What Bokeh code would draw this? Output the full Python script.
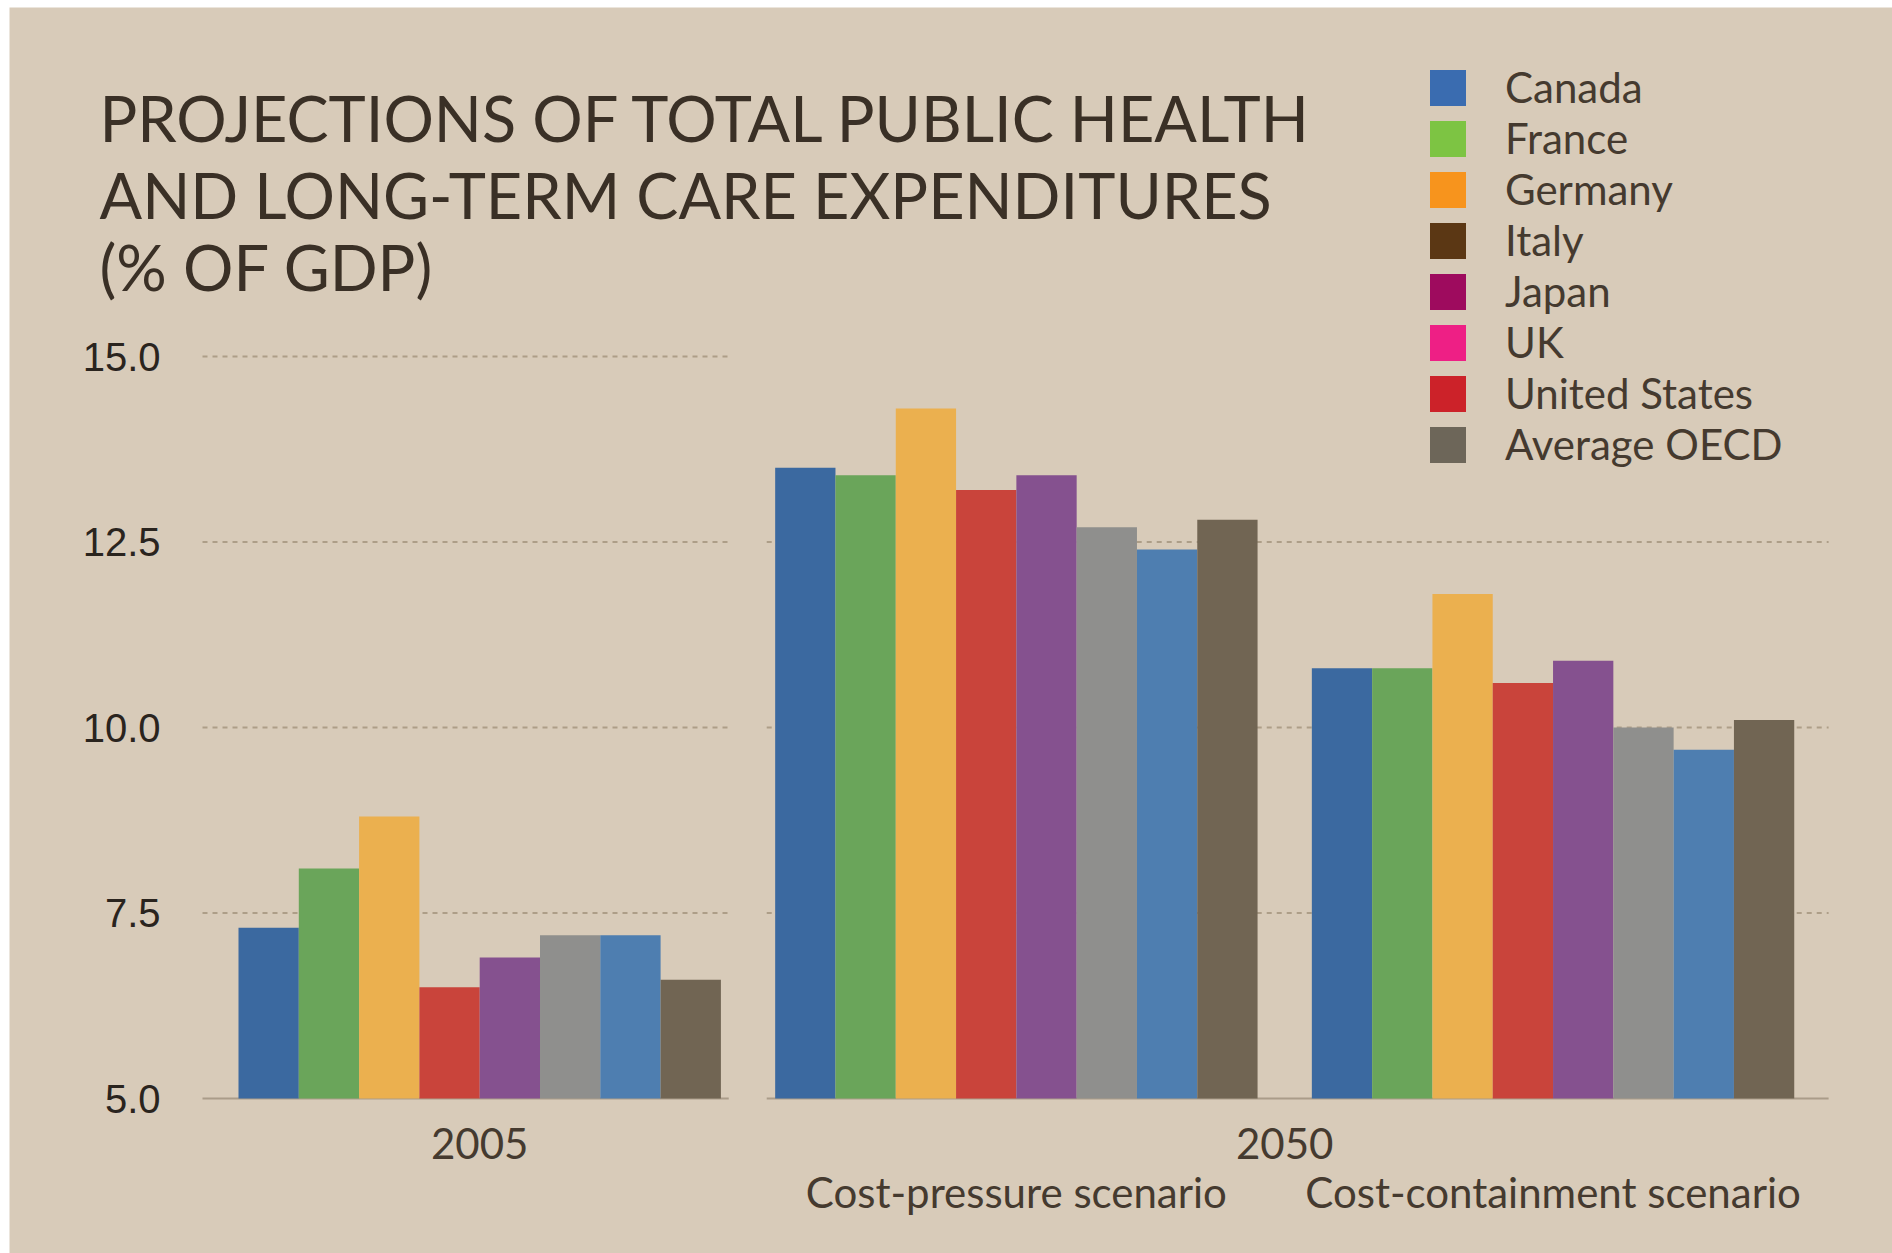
from bokeh.plotting import figure
from bokeh.models import (ColumnDataSource, Range1d, LinearAxis, FixedTicker,
                          PrintfTickFormatter, Label, Legend, LegendItem)
from bokeh.embed import file_html
from bokeh.resources import INLINE

# ---------------- data ----------------
countries = ["Canada", "France", "Germany", "Italy", "Japan", "UK",
             "United States", "Average OECD"]
group_names = ["2005", "Cost-pressure scenario", "Cost-containment scenario"]
year_labels = ["2005", "2050"]
values_2005 = [7.3, 8.1, 8.8, 6.5, 6.9, 7.2, 7.2, 6.6]
values_2050_pressure = [13.5, 13.4, 14.3, 13.2, 13.4, 12.7, 12.4, 12.8]
values_2050_containment = [10.8, 10.8, 11.8, 10.6, 10.9, 10.0, 9.7, 10.1]
y_ticks = [5.0, 7.5, 10.0, 12.5, 15.0]
title_lines = ["PROJECTIONS OF TOTAL PUBLIC HEALTH",
               "AND LONG-TERM CARE EXPENDITURES",
               "(% OF GDP)"]

# ---------------- style ----------------
bar_colors = ["#3b69a0", "#6aa55a", "#ebb04f", "#c9443b", "#85518f",
              "#8f8f8d", "#4e7eb0", "#716553"]
legend_colors = ["#3a6cb0", "#7dc443", "#f7941d", "#5b3714", "#9e0b5e",
                 "#ee1f85", "#cc2229", "#6d6659"]
BG = "#d8cbb9"
TEXT = "#453a2f"
FONT = "Lato"

W, H = 1892, 1253
ML, MT = 9, 7                       # white strip at left / top of the picture
AXIS_X, BASE_Y = 202, 1098          # page pixels of the value axis / baseline
PX_Y = 74.2                         # pixels per percentage point
PX_X = 60.3                         # pixels per bar slot
FIRST_BAR = 238                     # page x of first bar's left edge
GAP = 0.9                           # gap between groups (in bar widths)
n = len(countries)

def px_to_x(px):
    return (px - FIRST_BAR) / PX_X

def py_to_y(py):
    return y_ticks[0] + (BASE_Y - py) / PX_Y

# frame covers the whole figure
p = figure(width=W - ML, height=H - MT, output_backend="svg", toolbar_location=None,
           x_range=Range1d(px_to_x(ML), px_to_x(W)),
           y_range=Range1d(py_to_y(H), py_to_y(MT)),
           x_axis_location=None, min_border=0,
           min_border_left=0, min_border_right=0, min_border_top=0,
           min_border_bottom=0)
p.margin = (MT, 0, 0, ML)
p.background_fill_color = BG
p.border_fill_color = BG
p.outline_line_color = None
p.grid.visible = False

# ---------------- panels with grid lines ----------------
group_starts = [g * (n + GAP) for g in range(3)]
x_axis_pos = px_to_x(AXIS_X)
panels = [(x_axis_pos, group_starts[0] + n + 0.13, 15.0),
          (group_starts[1] - 0.14, group_starts[2] + n + 0.57, 14.5)]
gx0, gx1, gy, bx0, bx1, by = [], [], [], [], [], []
for (a, b, top) in panels:
    for t in y_ticks:
        if t > top:
            continue
        if t == y_ticks[0]:
            bx0.append(a); bx1.append(b); by.append(t)
        else:
            gx0.append(a); gx1.append(b); gy.append(t)
p.segment(x0=gx0, x1=gx1, y0=gy, y1=gy, line_color="#ad9e88", line_width=2,
          line_dash="5 5")
p.segment(x0=bx0, x1=bx1, y0=by, y1=by, line_color="#aa9c89", line_width=2)

# ---------------- bars ----------------
xs, tops, cols = [], [], []
for g, vals in enumerate([values_2005, values_2050_pressure, values_2050_containment]):
    for i, v in enumerate(vals):
        xs.append(group_starts[g] + i + 0.5)
        tops.append(v)
        cols.append(bar_colors[i])
src = ColumnDataSource(dict(x=xs, top=tops, color=cols))
p.vbar(x="x", top="top", bottom=y_ticks[0], width=1.0, fill_color="color",
       line_color=None, source=src)

# ---------------- legend (its own swatch colours) ----------------
items = []
for c, col in zip(countries, legend_colors):
    r = p.vbar(x=[float("nan")], top=[y_ticks[0]], bottom=y_ticks[0], width=1.0,
               fill_color=col, line_color=None)
    items.append(LegendItem(label=c, renderers=[r]))
legend = Legend(items=items, location=(1425 - ML, H - 469),
                glyph_width=45, glyph_height=45, label_standoff=35, spacing=1,
                padding=0, margin=0, border_line_color=None,
                background_fill_alpha=0, label_text_font=FONT,
                label_text_font_size="42px", label_text_color=TEXT)
p.add_layout(legend)

# ---------------- axes ----------------
yax = p.yaxis[0]
yax.fixed_location = x_axis_pos
yax.ticker = FixedTicker(ticks=y_ticks)
yax.formatter = PrintfTickFormatter(format="%.1f")
yax.axis_line_color = None
yax.major_tick_line_color = None
yax.minor_tick_line_color = None
yax.major_tick_out = 0
yax.major_tick_in = 0
yax.major_label_standoff = 42
yax.major_label_text_font = "Liberation Sans"
yax.major_label_text_font_size = "40px"
yax.major_label_text_color = "#2a241e"

c2005 = round(group_starts[0] + n / 2, 3)
c2050 = round((group_starts[1] + group_starts[2] + n) / 2, 3)
cP = round(group_starts[1] + n / 2, 3)
cC = round(group_starts[2] + n / 2, 3)

ax_year = LinearAxis(ticker=FixedTicker(ticks=[c2005, c2050]),
                     major_label_overrides={c2005: year_labels[0], c2050: year_labels[1]})
ax_scen = LinearAxis(ticker=FixedTicker(ticks=[cP, cC]),
                     major_label_overrides={cP: group_names[1], cC: group_names[2]})
for ax, standoff in ((ax_year, 29), (ax_scen, 68)):
    ax.fixed_location = y_ticks[0]
    ax.axis_line_color = None
    ax.major_tick_line_color = None
    ax.minor_tick_line_color = None
    ax.major_tick_out = 0
    ax.major_tick_in = 0
    ax.major_label_standoff = standoff
    ax.major_label_text_font = FONT
    ax.major_label_text_font_size = "42px"
    ax.major_label_text_color = TEXT
    p.add_layout(ax, "below")

# ---------------- title ----------------
for line, top in zip(title_lines, [79, 156, 228]):
    p.add_layout(Label(x=99 - ML, y=H - top, x_units="screen",
                       y_units="screen", text=line, text_font=FONT,
                       text_font_size="63px", text_color="#3a3026",
                       text_baseline="top", text_align="left"))

open("out.html", "w").write(file_html(p, INLINE))
